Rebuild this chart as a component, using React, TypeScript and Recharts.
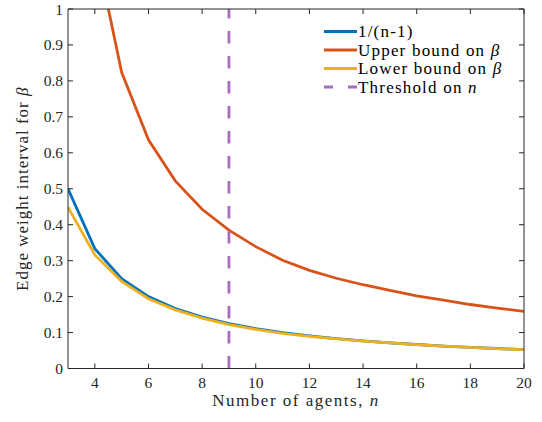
import { LineChart, Line, XAxis, YAxis, Legend, Label } from "recharts";

// number of agents on the x axis
const agents = [3, 4, 5, 6, 7, 8, 9, 10, 11, 12, 13, 14, 15, 16, 17, 18, 19, 20];
// 1/(n-1)
const inverseValues = [
  0.5, 0.3333, 0.25, 0.2, 0.1667, 0.1429, 0.125, 0.1111, 0.1, 0.0909, 0.0833,
  0.0769, 0.0714, 0.0667, 0.0625, 0.0588, 0.0556, 0.0526,
];
// upper bound on beta (n=3 off the chart)
const upperValues = [
  null, 1.18, 0.824, 0.636, 0.522, 0.443, 0.385, 0.339, 0.301, 0.273, 0.251,
  0.233, 0.217, 0.202, 0.19, 0.178, 0.168, 0.159,
];
// lower bound on beta
const lowerValues = [
  0.449, 0.316, 0.242, 0.194, 0.163, 0.14, 0.122, 0.109, 0.098, 0.0895, 0.0825,
  0.0763, 0.071, 0.0663, 0.0622, 0.0585, 0.0553, 0.0523,
];
// threshold on n
const thresholdN = 9;
const thresholdSpan = [0, 1];

const xTicks = [4, 6, 8, 10, 12, 14, 16, 18, 20];
const yTicks = [0, 0.1, 0.2, 0.3, 0.4, 0.5, 0.6, 0.7, 0.8, 0.9, 1];

const data = agents.map((n, i) => ({
  n,
  inverse: inverseValues[i],
  upper: upperValues[i],
  lower: lowerValues[i],
}));
const thresholdData = thresholdSpan.map((t) => ({ n: thresholdN, t }));

const FONT = "'Liberation Serif', 'DejaVu Serif', 'Times New Roman', Times, serif";
const AXIS = "#262626";
const BLUE = "#0072BD";
const RED = "#D95319";
const YELLOW = "#EDB120";
const PURPLE = "#A86BC0";

const legendItems = [
  { key: "inv", color: BLUE, dash: undefined, label: <>1/(n-1)</> },
  {
    key: "up",
    color: RED,
    dash: undefined,
    label: (
      <>
        Upper bound on <tspan fontStyle="italic">β</tspan>
      </>
    ),
  },
  {
    key: "low",
    color: YELLOW,
    dash: undefined,
    label: (
      <>
        Lower bound on <tspan fontStyle="italic">β</tspan>
      </>
    ),
  },
  {
    key: "thr",
    color: PURPLE,
    dash: "9 15",
    label: (
      <>
        Threshold on <tspan fontStyle="italic">n</tspan>
      </>
    ),
  },
];

const ChartLegend = () => (
  <svg width={210} height={80} style={{ display: "block" }}>
    {legendItems.map((item, i) => {
      const y = 9.5 + i * 18.5;
      return (
        <g key={item.key}>
          <line
            x1={0}
            x2={33}
            y1={y}
            y2={y}
            stroke={item.color}
            strokeWidth={2.8}
            strokeDasharray={item.dash}
          />
          <text
            x={34}
            y={y}
            dy="0.34em"
            fontSize={17}
            letterSpacing={1.2}
            style={{ fontFamily: FONT }}
            fill="#000"
          >
            {item.label}
          </text>
        </g>
      );
    })}
  </svg>
);

const XLabel = ({ viewBox }: any) => (
  <text
    x={viewBox.x + viewBox.width / 2}
    y={viewBox.y + 37.5}
    textAnchor="middle"
    fontSize={17}
    letterSpacing={1.5}
    style={{ fontFamily: FONT }}
    fill={AXIS}
  >
    Number of agents, <tspan fontStyle="italic">n</tspan>
  </text>
);

const YLabel = ({ viewBox }: any) => {
  const cx = 28;
  const cy = viewBox.y + viewBox.height / 2;
  return (
    <text
      x={cx}
      y={cy}
      textAnchor="middle"
      transform={`rotate(-90, ${cx}, ${cy})`}
      fontSize={17}
      letterSpacing={1}
      style={{ fontFamily: FONT }}
      fill={AXIS}
    >
      Edge weight interval for <tspan fontStyle="italic">β</tspan>
    </text>
  );
};

// tick marks only, no text (box axes on top and right)
const NoTick = () => <g />;

const tickStyle = { fill: AXIS, fontSize: 15.5, style: { fontFamily: FONT } };

export default function App() {
  return (
    <div style={{ width: 542, height: 422, background: "#fff", fontFamily: FONT }}>
      <style>{"body{margin:0}"}</style>
      <LineChart
        width={542}
        height={422}
        data={data}
        margin={{ top: 8, right: 17, bottom: 0, left: 0 }}
        style={{ fontFamily: FONT }}
      >
        <XAxis
          type="number"
          dataKey="n"
          domain={[3, 20]}
          ticks={xTicks}
          allowDataOverflow
          height={53.5}
          tickSize={-5}
          tickMargin={13.5}
          stroke={AXIS}
          tick={tickStyle}
        >
          <Label content={<XLabel />} />
        </XAxis>
        <XAxis
          xAxisId="top"
          orientation="top"
          type="number"
          dataKey="n"
          domain={[3, 20]}
          ticks={xTicks}
          allowDataOverflow
          height={1}
          tickSize={-5}
          stroke={AXIS}
          tick={NoTick}
        />
        <YAxis
          type="number"
          domain={[0, 1]}
          ticks={yTicks}
          allowDataOverflow
          width={68}
          tickSize={-5}
          tickMargin={10}
          stroke={AXIS}
          tick={tickStyle}
        >
          <Label content={<YLabel />} />
        </YAxis>
        <YAxis
          yAxisId="right"
          orientation="right"
          type="number"
          domain={[0, 1]}
          ticks={yTicks}
          allowDataOverflow
          width={1}
          tickSize={-5}
          stroke={AXIS}
          tick={NoTick}
        />
        <Line
          type="linear"
          dataKey="inverse"
          stroke={BLUE}
          strokeWidth={2.8}
          dot={false}
          isAnimationActive={false}
        />
        <Line
          type="linear"
          dataKey="upper"
          stroke={RED}
          strokeWidth={2.8}
          dot={false}
          isAnimationActive={false}
        />
        <Line
          type="linear"
          dataKey="lower"
          stroke={YELLOW}
          strokeWidth={2.8}
          dot={false}
          isAnimationActive={false}
        />
        <Line
          type="linear"
          data={thresholdData}
          dataKey="t"
          stroke={PURPLE}
          strokeWidth={2.8}
          strokeDasharray="12.5 12.5"
          dot={false}
          isAnimationActive={false}
        />
        <Legend
          layout="vertical"
          align="center"
          verticalAlign="middle"
          content={<ChartLegend />}
          wrapperStyle={{ left: 324, top: 22, width: 210, height: 80 }}
        />
      </LineChart>
    </div>
  );
}
